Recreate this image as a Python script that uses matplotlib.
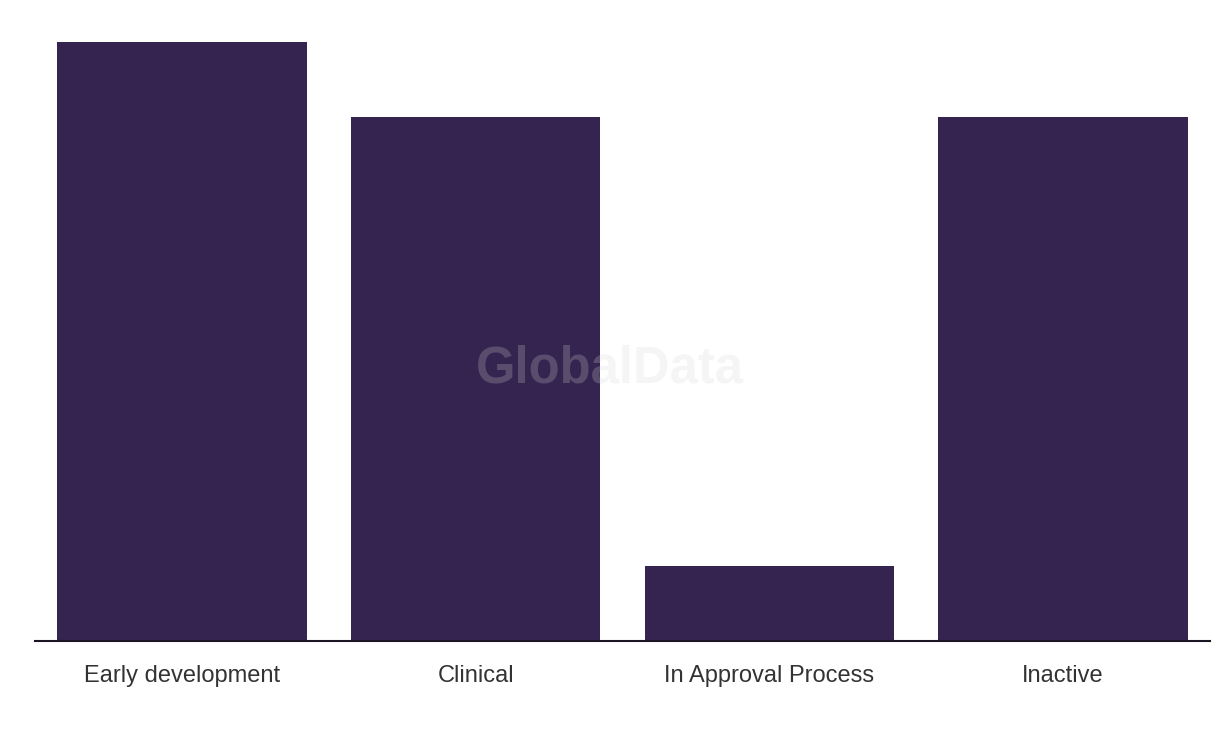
import matplotlib
matplotlib.use("Agg")
import matplotlib.pyplot as plt

# data
categories = ["Early development", "Clinical", "In Approval Process", "Inactive"]
values = [8, 7, 1, 7]

BAR_COLOR = "#35244F"

fig = plt.figure(figsize=(12.2, 7.36), dpi=100)
ax = fig.add_axes([35 / 1220, 1 - 641 / 736, 1175 / 1220, 599 / 736])

ax.bar(range(len(categories)), values, width=0.85, color=BAR_COLOR, zorder=2)
ax.set_xlim(-0.5, len(categories) - 0.5)
ax.set_ylim(0, max(values))

ax.set_xticks(range(len(categories)))
ax.set_xticklabels(categories, fontsize=17, color="#333333", family="Liberation Sans")
ax.tick_params(axis="x", length=0, pad=17)
ax.set_yticks([])

for side in ["top", "right", "left"]:
    ax.spines[side].set_visible(False)
ax.spines["bottom"].set_color("#1a1423")
ax.spines["bottom"].set_linewidth(1.5)
ax.spines["bottom"].set_zorder(3)

# watermark
fig.text(610 / 1220, 1 - 369 / 736, "GlobalData", ha="center", va="center",
         fontsize=36.5, fontweight="bold", family="Liberation Sans",
         color="#d4d4d4", alpha=0.23, zorder=10)

fig.savefig("out.png", dpi=100)
